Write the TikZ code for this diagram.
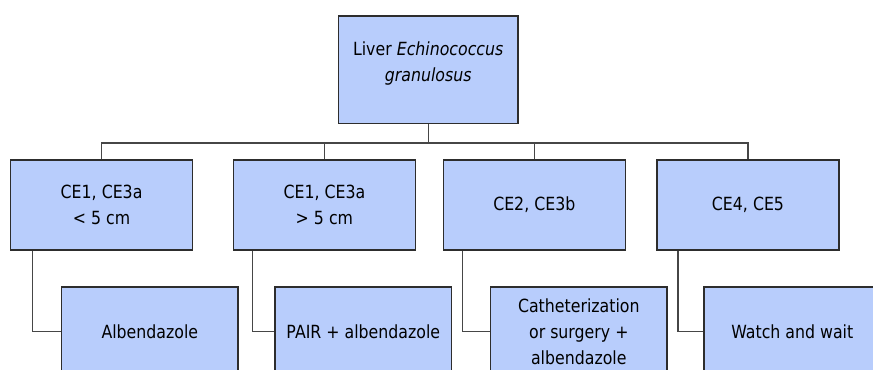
\documentclass[tikz,border=0pt]{standalone}
\usepackage{fontspec}
\setmainfont{DejaVu Sans}[FakeStretch=0.87]
\usetikzlibrary{calc}
\definecolor{boxfill}{RGB}{184,205,252}
\definecolor{boxline}{RGB}{45,45,45}
\definecolor{connline}{RGB}{70,70,70}
\tikzset{
  box/.style={draw=boxline, line width=1.2pt, fill=boxfill, rectangle, inner sep=0pt,
    align=center, font=\fontsize{13.6}{19.5}\selectfont, text=black},
  catbox/.style={box, minimum width=182*0.75pt, minimum height=90*0.75pt},
  treatbox/.style={box, minimum width=176.5*0.75pt, minimum height=90*0.75pt},
  conn/.style={draw=connline, line width=1pt}
}
\begin{document}
\begin{tikzpicture}[x=0.75pt, y=-0.75pt]
\useasboundingbox (0,0) rectangle (873,370);
\clip (0,0) rectangle (873,370);
\fill[white] (0,0) rectangle (873,370);

\node[box, minimum width=179.5*0.75pt, minimum height=107.3*0.75pt] (root) at (428.2,69.7)
  {\raisebox{5pt}[\height][\depth]{\begin{tabular}{@{}c@{}}Liver \textit{Echinococcus}\\\textit{granulosus}\end{tabular}}};

\node[catbox] (c1) at (101.6,205) {CE1, CE3a\\< 5 cm};
\node[catbox] (c2) at (324.4,205) {CE1, CE3a\\> 5 cm};
\node[catbox] (c3) at (534.3,205) {CE2, CE3b};
\node[catbox] (c4) at (748,205) {CE4, CE5};

\node[treatbox] (t1) at (149.8,331.7) {Albendazole};
\node[treatbox] (t2) at (363.3,331.7) {PAIR + albendazole};
\node[treatbox] (t3) at (578.8,331.7) {Catheterization\\or surgery +\\albendazole};
\node[treatbox] (t4) at (792.3,331.7) {Watch and wait};

\foreach \c in {c1,c2,c3,c4}{
  \draw[conn] (root.south) -- ++(0,18.7) -| (\c.north);
}
\draw[conn] ($(c1.south west)+(23,0)$) |- (t1.west);
\draw[conn] ($(c2.south west)+(20,0)$) |- (t2.west);
\draw[conn] ($(c3.south west)+(20,0)$) |- (t3.west);
\draw[conn] ($(c4.south west)+(21.7,0)$) |- (t4.west);
\end{tikzpicture}
\end{document}
